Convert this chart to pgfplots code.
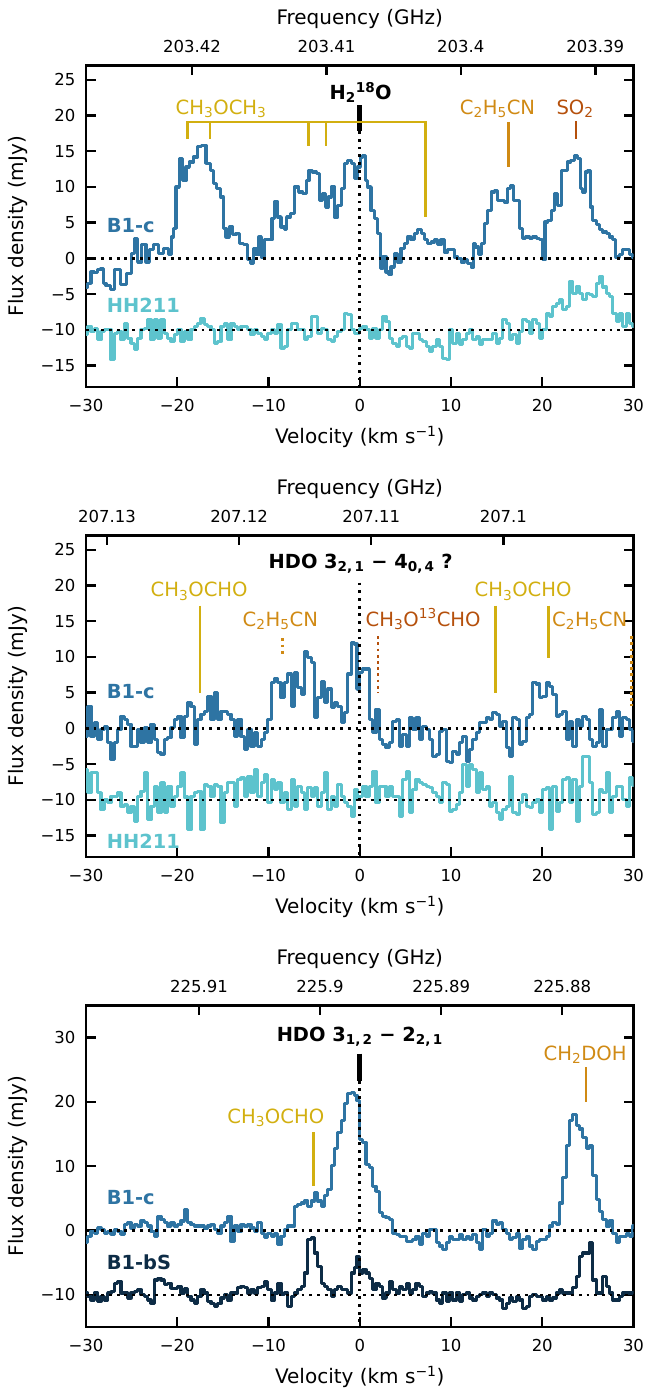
\documentclass[border=0pt]{standalone}
\usepackage{pgfplots}
\pgfplotsset{compat=1.18}
\usepackage{pgfplotstable}
\usepackage{fontspec}
\setmainfont{DejaVu Sans}
\definecolor{cB}{HTML}{2E74A3}
\definecolor{cH}{HTML}{5DC3CD}
\definecolor{cS}{HTML}{0D2C46}
\definecolor{gold}{HTML}{D2AF10}
\definecolor{orng}{HTML}{D08A14}
\definecolor{brwn}{HTML}{B5500C}

\pgfplotstableread{
v p1h p2c p2h p3c p3b
-30.00 -10.7 -1.1 -5.7 -1.9 -9.7
-29.63 -9.5 3.1 -9.0 -0.9 -10.2
-29.27 -10.2 -1.1 -6.2 -0.1 -10.8
-28.90 -9.8 0.8 -6.2 -0.4 -9.7
-28.54 -11.4 -1.5 -9.0 0.4 -11.0
-28.17 -10.2 -0.1 -11.4 0.2 -10.2
-27.81 -10.0 0.3 -10.0 -0.4 -10.8
-27.44 -10.0 -2.0 -10.4 -0.1 -9.7
-27.08 -14.2 -4.3 -9.5 -0.6 -9.5
-26.71 -10.5 -2.0 -9.5 0.2 -8.2
-26.34 -10.2 -0.1 -9.0 -0.1 -7.9
-25.98 -11.4 1.7 -10.9 -0.6 -9.7
-25.61 -9.1 1.3 -10.7 0.9 -9.7
-25.25 -11.2 0.6 -11.8 1.2 -10.5
-24.88 -11.9 -2.5 -10.9 0.4 -9.7
-24.52 -12.8 -2.5 -13.0 0.9 -9.5
-24.15 -11.2 -0.1 -9.5 0.7 -9.2
-23.79 -10.0 -2.0 -8.8 1.5 -10.0
-23.42 -9.8 0.1 -6.2 1.2 -10.2
-23.06 -8.6 -2.0 -12.8 0.7 -10.8
-22.69 -11.4 0.6 -10.9 -0.1 -11.3
-22.32 -8.6 -1.5 -8.1 -0.9 -7.7
-21.96 -11.2 -3.4 -11.8 2.2 -7.4
-21.59 -8.6 -3.6 -7.6 1.7 -7.7
-21.23 -10.5 -1.5 -11.8 1.2 -8.4
-20.86 -11.2 -1.3 -8.1 0.7 -8.2
-20.50 -11.6 0.1 -10.9 1.2 -9.0
-20.13 -10.7 1.3 -9.5 0.7 -9.0
-19.77 -10.0 1.7 -8.1 0.9 -8.7
-19.40 -11.6 -1.3 -6.2 1.5 -9.7
-19.04 -10.2 1.7 -9.6 3.3 -9.0
-18.67 -11.4 3.6 -14.2 1.2 -10.2
-18.30 -10.0 3.1 -9.5 0.9 -10.8
-17.94 -9.5 -2.2 -9.0 0.7 -11.3
-17.57 -9.1 1.3 -8.8 0.7 -10.2
-17.21 -8.4 2.0 -14.2 0.7 -9.2
-16.84 -9.3 2.4 -7.9 0.4 -9.7
-16.48 -9.5 4.5 -8.1 0.7 -11.0
-16.11 -10.0 1.3 -9.5 0.9 -11.3
-15.75 -11.9 5.0 -7.9 0.2 -11.8
-15.38 -11.6 1.3 -8.1 -0.4 -11.3
-15.01 -9.5 2.4 -13.2 0.7 -10.5
-14.65 -9.1 2.4 -9.0 1.2 -10.0
-14.28 -11.4 2.0 -7.6 2.2 -10.8
-13.92 -9.1 1.3 -7.6 -1.7 -9.7
-13.55 -9.5 -1.1 -10.9 0.7 -9.7
-13.19 -10.0 1.3 -7.1 -0.1 -8.9
-12.82 -9.5 -1.1 -6.9 0.9 -8.7
-12.46 -9.5 -2.9 -9.5 0.7 -8.9
-12.09 -10.0 -0.1 -6.7 0.9 -9.7
-11.73 -10.7 -2.5 -9.0 0.4 -9.2
-11.36 -10.0 -0.6 -5.7 -0.1 -9.7
-10.99 -10.5 -2.5 -9.5 1.2 -8.9
-10.63 -10.9 -1.5 -7.6 -0.4 -8.7
-10.26 -11.4 -0.6 -6.4 -1.1 -7.9
-9.90 -10.5 1.3 -10.4 -0.4 -9.2
-9.53 -10.0 6.4 -7.1 -0.9 -10.8
-9.17 -10.5 6.9 -8.6 -0.4 -9.7
-8.80 -9.3 6.4 -7.6 -2.2 -8.2
-8.44 -12.6 4.3 -10.4 -0.9 -10.0
-8.07 -12.3 6.4 -9.0 0.2 -9.7
-7.70 -10.0 7.6 -11.4 0.7 -11.8
-7.34 -9.1 3.1 -7.1 0.7 -10.2
-6.97 -9.1 7.8 -10.9 3.8 -9.7
-6.61 -10.0 5.7 -8.1 4.1 -9.2
-6.24 -10.0 4.8 -9.0 4.3 -8.7
-5.88 -11.4 10.8 -11.4 4.6 -6.6
-5.51 -10.9 9.9 -8.3 3.8 -1.4
-5.15 -8.1 9.2 -9.5 4.6 -1.1
-4.78 -8.1 1.5 -8.3 5.9 -3.5
-4.42 -10.5 4.3 -10.9 4.6 -5.6
-4.05 -9.8 6.6 -9.0 3.8 -8.2
-3.68 -10.0 3.6 -6.2 5.4 -8.7
-3.32 -11.4 5.5 -11.4 6.4 -9.2
-2.95 -11.6 2.9 -9.5 10.1 -10.2
-2.59 -10.9 3.6 -10.9 12.7 -9.2
-2.22 -10.2 3.1 -7.9 15.3 -8.7
-1.86 -10.0 0.8 -9.5 17.1 -9.2
-1.49 -7.7 2.2 -10.4 19.7 -9.2
-1.13 -7.9 7.6 -10.9 21.3 -9.7
-0.76 -10.0 12.0 -12.3 21.5 -6.6
-0.40 -10.5 11.8 -8.6 21.0 -5.8
-0.22 -10.5 5.5 -10.0 20.2 -4.0
0.15 -9.8 7.8 -9.5 14.2 -6.6
0.51 -9.5 8.3 -8.1 13.7 -6.1
0.88 -10.0 8.3 -9.5 10.3 -6.6
1.24 -11.2 1.3 -8.1 9.8 -7.4
1.61 -9.8 -0.6 -6.0 6.9 -9.2
1.97 -11.2 2.7 -10.4 6.1 -8.2
2.34 -10.0 -1.5 -8.1 2.8 -8.7
2.70 -8.1 -2.2 -8.1 2.2 -10.5
3.07 -8.8 -2.7 -9.5 2.0 -9.7
3.43 -11.2 -2.0 -8.1 1.7 -7.9
3.80 -11.9 1.0 -9.5 -0.4 -9.2
4.17 -12.3 1.3 -9.5 -0.6 -9.7
4.53 -11.2 -2.5 -12.3 -0.9 -8.7
4.90 -10.9 -0.8 -7.1 -0.9 -9.2
5.26 -12.3 -2.5 -6.0 -1.7 -8.2
5.63 -12.6 1.5 -11.8 -1.7 -9.7
5.99 -10.5 -0.1 -8.6 -1.4 -9.2
6.36 -10.5 1.5 -7.1 -0.9 -8.2
6.72 -11.4 -1.5 -7.6 -2.2 -8.7
7.09 -11.6 0.3 -7.9 -0.4 -10.2
7.46 -12.3 -0.1 -8.1 -0.9 -9.7
7.82 -13.0 -1.5 -8.3 0.2 -9.5
8.19 -12.3 -3.9 -9.0 0.2 -9.7
8.55 -11.4 -3.6 -9.5 -1.9 -10.8
8.92 -12.3 -0.4 -10.4 -2.4 -11.3
9.28 -14.0 -0.1 -7.6 -3.0 -9.7
9.65 -14.2 -4.6 -7.9 -1.9 -11.0
10.01 -10.0 -4.8 -11.6 -0.9 -9.7
10.38 -11.9 -3.2 -11.4 -1.4 -10.8
10.74 -10.5 -3.6 -10.7 -1.4 -9.7
11.11 -12.1 -2.0 -9.0 -0.6 -11.0
11.48 -11.4 -1.1 -5.0 -1.4 -10.0
11.84 -10.5 -4.6 -8.1 -0.9 -9.7
12.21 -10.0 -2.9 -5.0 -1.4 -10.5
12.57 -11.4 -1.5 -5.7 -0.6 -10.8
12.94 -10.9 -0.6 -9.0 -1.9 -10.2
13.30 -12.1 0.8 -6.2 -3.0 -10.0
13.67 -11.4 0.8 -8.6 0.2 -9.7
14.03 -11.4 1.5 -8.1 -0.9 -10.2
14.40 -11.4 1.3 -10.9 -0.4 -9.7
14.77 -10.5 2.2 -10.4 1.5 -10.0
15.13 -11.9 2.0 -11.8 0.9 -10.5
15.50 -11.2 0.3 -12.8 1.2 -10.8
15.86 -8.6 1.0 -11.4 0.2 -12.1
16.23 -9.1 -2.7 -10.9 -0.4 -11.3
16.59 -11.4 -3.9 -6.7 -1.4 -10.5
16.96 -10.7 1.5 -11.8 -1.1 -11.0
17.32 -11.9 1.3 -12.1 -0.4 -10.2
17.69 -10.2 -2.2 -10.4 -2.7 -10.8
18.05 -8.6 -1.8 -9.3 -1.4 -12.1
18.42 -8.8 1.5 -10.9 -0.9 -11.8
18.79 -10.5 2.0 -11.1 -2.4 -10.2
19.15 -8.6 6.4 -10.4 -3.0 -10.0
19.52 -9.1 6.2 -10.0 -1.7 -10.2
19.88 -11.2 4.3 -11.8 -1.4 -10.2
20.25 -10.0 4.5 -8.6 -1.4 -10.8
20.61 -7.7 6.4 -8.3 -0.9 -10.2
20.98 -8.1 5.9 -14.2 0.7 -10.8
21.34 -6.7 4.8 -8.1 1.2 -10.5
21.71 -6.3 1.7 -11.6 0.9 -9.7
22.08 -5.8 2.0 -10.4 4.3 -9.2
22.44 -7.2 2.4 -7.1 8.2 -9.7
22.81 -6.7 -1.5 -6.9 13.2 -9.7
23.17 -3.3 1.0 -10.4 17.1 -9.7
23.54 -4.9 -2.5 -7.1 18.1 -8.9
23.90 -4.0 1.3 -13.0 16.3 -7.1
24.27 -4.9 0.3 -8.1 15.8 -4.0
24.63 -5.8 1.7 -3.9 14.5 -3.5
25.00 -4.9 1.3 -3.9 12.7 -3.5
25.36 -5.1 -1.5 -7.6 13.2 -1.9
25.73 -5.3 -2.5 -12.1 8.5 -7.7
26.10 -3.5 -2.0 -11.8 4.8 -9.7
26.46 -2.6 2.7 -8.6 3.0 -9.7
26.83 -4.0 -2.5 -9.0 1.7 -7.1
27.19 -4.9 -0.1 -6.2 0.7 -8.7
27.56 -5.3 -0.1 -11.8 1.5 -9.7
27.92 -7.7 1.5 -9.5 -0.4 -10.8
28.29 -8.8 2.4 -8.1 -1.9 -10.8
28.65 -7.7 -1.1 -8.1 -0.9 -10.2
29.02 -9.5 1.5 -10.0 -0.9 -9.7
29.38 -7.7 1.3 -10.9 -0.4 -9.7
29.75 -9.1 -0.1 -6.9 -0.9 -9.7
30.11 -9.5 -1.8 -8.0 0.7 -9.7
}\spec

\pgfplotsset{
  base/.style={scale only axis, width=547.5pt, height=321.5pt,
    xmin=-30, xmax=30, clip mode=individual,
    axis line style={line width=2.8pt, line cap=rect},
    every tick/.style={line width=2.4pt, black},
    major tick length=10pt, tick align=inside,
    ticklabel style={font=\fontsize{16.5}{18}\selectfont}},
  main/.style={base, xtick={-30,-20,...,30},
    xticklabels={−30,−20,−10,0,10,20,30},
    xtick pos=lower, ytick pos=both, yticklabel pos=left,
    xticklabel style={anchor=center, yshift=-18.7pt},
    yticklabel style={anchor=east, xshift=-7pt},
    xlabel={Velocity (km s\textsuperscript{−1})},
    ylabel={Flux density (mJy)},
    every axis x label/.style={at={(axis description cs:0.5,-0.1555)}, anchor=center, font=\fontsize{20}{22}\selectfont},
    every axis y label/.style={at={(axis description cs:-0.1242,0.5)}, rotate=90, anchor=center, font=\fontsize{20}{22}\selectfont}},
  top/.style={base, axis x line*=top, axis y line=none, ymin=0, ymax=1,
    xticklabel style={anchor=center, yshift=19.3pt},
    xlabel={Frequency (GHz)},
    every axis x label/.style={at={(axis description cs:0.5,1.1431)}, anchor=center, font=\fontsize{20}{22}\selectfont}},
  spec/.style={line width=3.2pt, const plot mark mid, line join=round, mark=none},
}
\tikzset{
  dotl/.style={black, line width=2.6pt, dash pattern=on 2.8pt off 4.9pt},
  ann/.style={line width=2.8pt},
  dann/.style={line width=2.8pt, dash pattern=on 2.8pt off 3.4pt},
  lab/.style={font=\fontsize{19.6}{21}\selectfont, anchor=base},
  tit/.style={font=\bfseries\fontsize{19.4}{21}\selectfont, anchor=base},
  src/.style={font=\bfseries\fontsize{19.4}{21}\selectfont, anchor=west},
}

\begin{document}
\begin{tikzpicture}
\useasboundingbox (0pt,0pt) rectangle (648pt,1389pt);

% ---------------- Panel 1 ----------------
\begin{axis}[top, at={(86pt,1002pt)}, anchor=south west,
  xtick={-18.39,-3.655,11.08,25.82}, xticklabels={203.42,203.41,203.4,203.39}]
\end{axis}
\begin{axis}[main, at={(86pt,1002pt)}, anchor=south west,
  ymin=-18, ymax=27, ytick={-15,-10,...,25},
  yticklabels={−15,−10,−5,0,5,10,15,20,25}]
\addplot[spec, cH] table[x=v, y=p1h] {\spec};
\addplot[spec, cB] coordinates {
(-30.00,-4.0) (-29.63,-3.5) (-29.27,-1.9) (-28.90,-2.0) (-28.54,-1.6) (-28.17,-1.4)
(-27.99,-3.5) (-27.63,-3.8) (-27.08,-4.4) (-26.71,-1.6) (-26.34,-1.6) (-26.16,-3.7)
(-25.61,-3.7) (-25.43,-2.1) (-25.07,-2.1) (-24.88,0.7) (-24.52,2.8) (-24.15,-0.5)
(-23.60,1.9) (-23.24,-0.5) (-22.87,1.2) (-22.32,1.9) (-21.78,0.7) (-21.23,1.4)
(-20.68,0.5) (-20.57,3.0) (-20.31,4.2) (-19.95,10.0) (-19.58,14.0) (-19.22,10.9)
(-18.85,12.8) (-18.49,13.5) (-17.94,14.2) (-17.57,15.7) (-17.03,15.8) (-16.66,13.3)
(-16.11,12.3) (-15.93,10.5) (-15.38,9.8) (-15.09,8.6) (-14.83,4.2) (-14.47,3.0)
(-14.10,4.4) (-13.74,3.3) (-13.37,3.5) (-13.00,2.1) (-12.46,1.9) (-12.09,-0.2)
(-11.80,-0.7) (-11.54,1.4) (-11.18,0.5) (-10.92,3.0) (-10.63,0.2) (-10.26,2.6)
(-9.71,2.6) (-9.53,5.6) (-9.17,7.9) (-8.80,5.8) (-8.44,4.4) (-8.14,4.0)
(-7.89,5.8) (-7.34,6.3) (-6.97,10.0) (-6.43,9.3) (-6.06,9.1) (-5.69,10.9)
(-5.44,12.3) (-4.96,12.1) (-4.60,11.9) (-4.23,8.1) (-3.87,9.1) (-3.61,7.2)
(-3.32,8.6) (-2.95,10.0) (-2.59,5.8) (-2.22,7.4) (-1.86,9.8) (-1.49,13.3)
(-1.13,13.7) (-0.76,13.3) (-0.40,11.2) (-0.03,12.8) (0.15,14.2) (0.51,14.4)
(0.69,10.9) (1.06,10.0) (1.42,6.7) (1.79,5.6) (2.16,3.5) (2.41,-1.4)
(2.70,0.2) (3.07,-1.9) (3.25,-2.3) (3.62,-1.2) (3.98,0.7) (4.35,-0.5)
(4.71,1.4) (5.08,2.1) (5.44,3.0) (5.81,2.6) (6.18,3.5) (6.54,4.0)
(6.91,3.5) (7.27,2.6) (7.64,2.1) (8.00,2.3) (8.37,2.6) (8.73,1.9)
(9.10,2.6) (9.47,0.9) (9.83,1.2) (10.20,1.2) (10.56,0.2) (10.93,0.0)
(11.29,-0.5) (11.66,-0.2) (12.02,-0.7) (12.39,-1.2) (12.57,2.1) (12.86,1.6)
(13.12,0.5) (13.49,2.1) (13.85,4.9) (14.22,6.7) (14.58,9.3) (14.95,9.5)
(15.31,8.1) (15.68,8.1) (16.04,7.9) (16.41,9.8) (16.67,10.2) (16.96,8.1)
(17.32,8.1) (17.69,4.2) (17.98,2.8) (18.42,3.0) (18.79,2.8) (19.15,3.0)
(19.52,2.8) (19.88,2.6) (20.17,-0.2) (20.43,5.1) (20.80,5.3) (21.16,6.7)
(21.53,9.1) (21.89,7.4) (22.26,12.3) (22.62,12.3) (22.88,13.5) (23.35,13.7)
(23.72,14.4) (24.09,14.0) (24.27,9.8) (24.63,9.3) (24.82,12.1) (25.18,12.3)
(25.36,7.2) (25.73,5.3) (26.10,4.7) (26.46,4.0) (26.83,3.7) (27.19,3.5)
(27.56,3.0) (27.92,2.6) (28.22,0.2) (28.65,0.5) (29.02,1.2) (29.38,1.2)
(29.75,0.5) (30.04,0.2)};
\draw[dotl] (axis cs:-30,0) -- (axis cs:30,0);
\draw[dotl] (axis cs:-30,-10) -- (axis cs:30,-10);
\draw[dotl] (axis cs:0,17.8) -- (axis cs:0,-18);
\draw[black, line width=4.6pt] (axis cs:0,21.4) -- (axis cs:0,17.8);
\node[tit] at (axis cs:0.1,22.2) {H\textsubscript{2}\textsuperscript{18}O};
\draw[gold, ann] (axis cs:-18.9,16.7) -- (axis cs:-18.9,19.1) -- (axis cs:7.2,19.1) -- (axis cs:7.2,5.8);
\draw[gold, ann] (axis cs:-16.4,19.1) -- (axis cs:-16.4,16.7);
\draw[gold, ann] (axis cs:-5.6,19.1) -- (axis cs:-5.6,15.75);
\draw[gold, ann] (axis cs:-3.7,19.1) -- (axis cs:-3.7,15.75);
\node[lab, text=gold] at (axis cs:-15.2,20.2) {CH\textsubscript{3}OCH\textsubscript{3}};
\draw[orng, ann] (axis cs:16.3,19.1) -- (axis cs:16.3,12.8);
\node[lab, text=orng] at (axis cs:15.1,20.2) {C\textsubscript{2}H\textsubscript{5}CN};
\draw[brwn, ann] (axis cs:23.7,19.2) -- (axis cs:23.7,16.7);
\node[lab, text=brwn] at (axis cs:23.6,20.2) {SO\textsubscript{2}};
\node[src, text=cB] at (axis cs:-28.1,4.6) {B1-c};
\node[src, text=cH] at (axis cs:-28.1,-6.6) {HH211};
\end{axis}

% ---------------- Panel 2 ----------------
\begin{axis}[top, at={(86pt,532pt)}, anchor=south west,
  xtick={-27.69,-13.22,1.26,15.74}, xticklabels={207.13,207.12,207.11,207.1}]
\end{axis}
\begin{axis}[main, at={(86pt,532pt)}, anchor=south west,
  ymin=-18, ymax=27, ytick={-15,-10,...,25},
  yticklabels={−15,−10,−5,0,5,10,15,20,25}]
\addplot[spec, cH] table[x=v, y=p2h] {\spec};
\addplot[spec, cB] table[x=v, y=p2c] {\spec};
\draw[dotl] (axis cs:-30,0) -- (axis cs:30,0);
\draw[dotl] (axis cs:-30,-10) -- (axis cs:30,-10);
\draw[dotl] (axis cs:0,20.4) -- (axis cs:0,-18);
\node[tit] at (axis cs:0.1,22.4) {HDO 3\textsubscript{2,\,1} − 4\textsubscript{0,\,4} ?};
\draw[gold, ann] (axis cs:-17.5,17.2) -- (axis cs:-17.5,4.9);
\node[lab, text=gold] at (axis cs:-17.6,18.4) {CH\textsubscript{3}OCHO};
\draw[orng, dann] (axis cs:-8.5,12.6) -- (axis cs:-8.5,10.1);
\node[lab, text=orng] at (axis cs:-8.7,14.3) {C\textsubscript{2}H\textsubscript{5}CN};
\draw[brwn, dann] (axis cs:2.0,12.9) -- (axis cs:2.0,5.0);
\node[lab, text=brwn] at (axis cs:6.95,14.3) {CH\textsubscript{3}O\textsuperscript{13}CHO};
\draw[gold, ann] (axis cs:14.85,17.2) -- (axis cs:14.85,4.9);
\node[lab, text=gold] at (axis cs:17.9,18.4) {CH\textsubscript{3}OCHO};
\draw[gold, ann] (axis cs:20.7,17.2) -- (axis cs:20.7,9.9);
\node[lab, text=orng] at (axis cs:25.2,14.3) {C\textsubscript{2}H\textsubscript{5}CN};
\draw[orng, dann] (axis cs:29.8,12.9) -- (axis cs:29.8,3.1);
\node[src, text=cB] at (axis cs:-28.1,5.2) {B1-c};
\node[src, text=cH] at (axis cs:-28.1,-15.8) {HH211};
\end{axis}

% ---------------- Panel 3 ----------------
\begin{axis}[top, at={(86pt,62pt)}, anchor=south west,
  xtick={-17.62,-4.35,8.92,22.19}, xticklabels={225.91,225.9,225.89,225.88}]
\end{axis}
\begin{axis}[main, at={(86pt,62pt)}, anchor=south west,
  ymin=-15, ymax=35, ytick={-10,0,...,30},
  yticklabels={−10,0,10,20,30}]
\addplot[spec, cS] table[x=v, y=p3b] {\spec};
\addplot[spec, cB] table[x=v, y=p3c] {\spec};
\draw[dotl] (axis cs:-30,0) -- (axis cs:30,0);
\draw[dotl] (axis cs:-30,-10) -- (axis cs:30,-10);
\draw[dotl] (axis cs:0,23.3) -- (axis cs:0,-15);
\draw[black, line width=4.6pt] (axis cs:0,27.5) -- (axis cs:0,23.3);
\node[tit] at (axis cs:0,29.4) {HDO 3\textsubscript{1,\,2} − 2\textsubscript{2,\,1}};
\draw[gold, ann] (axis cs:-5.1,15.3) -- (axis cs:-5.1,6.9);
\node[lab, text=gold] at (axis cs:-9.2,16.6) {CH\textsubscript{3}OCHO};
\draw[orng, ann] (axis cs:24.8,25.4) -- (axis cs:24.8,20.0);
\node[lab, text=orng] at (axis cs:24.7,26.5) {CH\textsubscript{2}DOH};
\node[src, text=cB] at (axis cs:-28.1,5.2) {B1-c};
\node[src, text=cS] at (axis cs:-28.1,-4.9) {B1-bS};
\end{axis}
\end{tikzpicture}
\end{document}
